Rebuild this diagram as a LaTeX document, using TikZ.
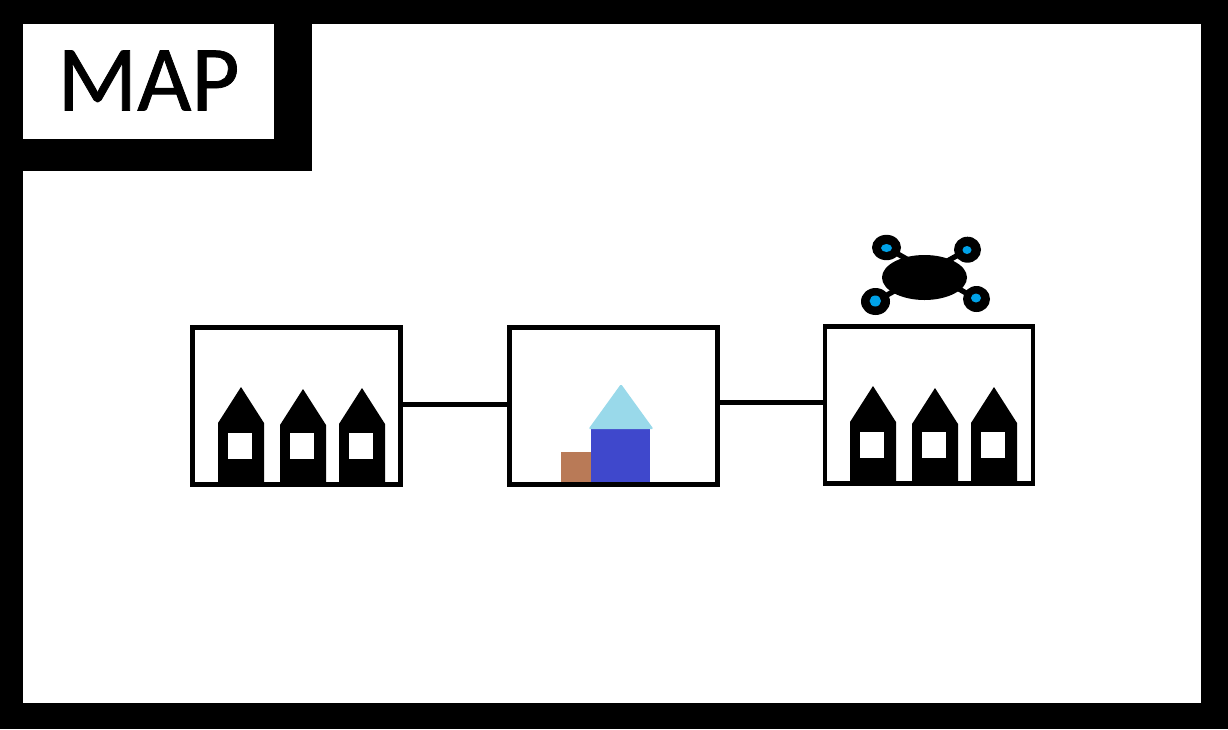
\documentclass[tikz,border=0pt]{standalone}
\usepackage{fontspec}
\setmainfont{Carlito}
\newfontfamily\titlefont[FakeBold=0.8]{Carlito}
\definecolor{roofblue}{HTML}{99D9EA}
\definecolor{wallblue}{HTML}{3F48CC}
\definecolor{shedbrown}{HTML}{B97A57}
\definecolor{rotorblue}{HTML}{00A2E8}
\tikzset{
    x=0.75pt,y=-0.75pt,
    stopbox/.style={draw=black,line width=3.6pt,minimum width=156pt,minimum height=118pt,inner sep=0pt},
    road/.style={line width=3.8pt},
    % black house, origin at the middle of its foot, \h is its height
    house/.pic={
        \fill[black] (-23,0) -- (-23,{-\h+36}) -- (0,-\h) -- (23,{-\h+36}) -- (23,0) -- cycle;
        \fill[white] (-13,-51) rectangle (11,-25);
    }
}
\begin{document}
\begin{tikzpicture}
    \useasboundingbox (0,0) rectangle (1228,729);
    % frame
    \fill[black] (0,0) rectangle (1228,729);
    \fill[white] (23,24) rectangle (1201,703);
    \fill[black] (23,24) rectangle (312,171);
    \node[fill=white,minimum width=188.25pt,minimum height=86.25pt,inner sep=0pt,font=\titlefont\fontsize{70}{70}\selectfont] (title) at (148.5,81.5) {\raisebox{1.5pt}{MAP}};

    % stops
    \node[stopbox] (stopa) at (296.5,406) {};
    \node[stopbox] (stopb) at (613.5,406) {};
    \node[stopbox] (stopc) at (929,405) {};
    \draw[road] ([yshift=1.2pt]stopa.east) -- ([yshift=1.2pt]stopb.west);
    \draw[road] ([yshift=2.8pt]stopb.east) -- ([yshift=2.8pt]stopb.east -| stopc.west);

    % houses
    \foreach \x/\y/\h in {241/484/97,303/484/95,362/484/96,873/483/97,935/483/95,994/483/96}{
      \pic at (\x,\y) {house};
    }

    % depot
    \fill[shedbrown] (561,452) rectangle (591,482);
    \fill[wallblue] (591,429) rectangle (650,482);
    \fill[roofblue,rounded corners=1pt] (588.5,429) -- (621,384) -- (653.5,429) -- cycle;

    % drone
    \draw[line width=4pt] (886.5,247.5) -- (976.5,299) (967.5,249.7) -- (875.5,301.5);
    \fill[black] (924.5,277.5) ellipse [x radius=42.5,y radius=22.5];
    \foreach \x/\y/\rx/\ry/\bx/\by/\brx/\bry in {886.5/247.5/14.5/12.7/886.5/248/5.5/4,967.5/249.7/13.5/13/967/250/4.5/4,875.5/301.5/14.5/13.5/875.3/301/5.7/5.5,976.5/299/13.5/13/976/298/5/4.5}{
      \fill[black] (\x,\y) ellipse [x radius=\rx,y radius=\ry];
      \fill[rotorblue] (\bx,\by) ellipse [x radius=\brx,y radius=\bry];
    }
\end{tikzpicture}
\end{document}
